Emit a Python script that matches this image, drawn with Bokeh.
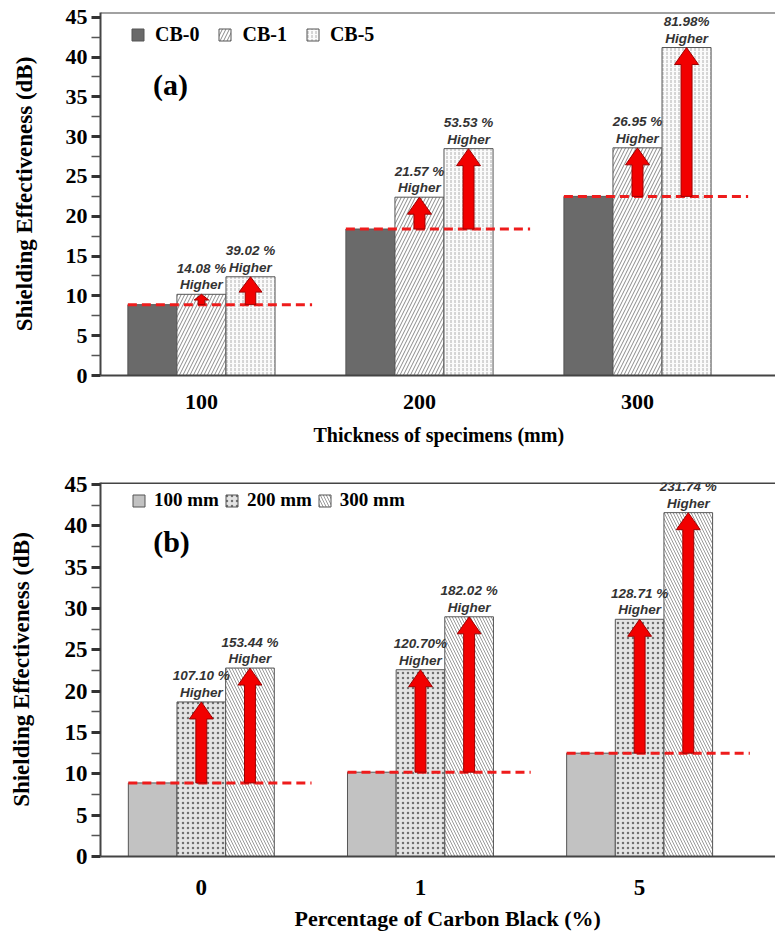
from bokeh.plotting import figure
from bokeh.layouts import column
from bokeh.models import (ColumnDataSource, FixedTicker, Legend, LegendItem,
                          Label, Range1d, Span, Title)
from bokeh.embed import file_html
from bokeh.resources import INLINE
from bokeh.core.properties import value

# ---------------- data: panel (a) ----------------
thickness_labels = ["100", "200", "300"]
cb_names = ["CB-0", "CB-1", "CB-5"]
se_cb0 = [8.9, 18.4, 22.5]
se_cb1 = [10.2, 22.4, 28.6]
se_cb5 = [12.4, 28.5, 41.2]
pct_a_cb1 = ["14.08 %", "21.57 %", "26.95 %"]
pct_a_cb5 = ["39.02 %", "53.53 %", "81.98%"]

# ---------------- data: panel (b) ----------------
cb_percent_labels = ["0", "1", "5"]
thk_names = ["100 mm", "200 mm", "300 mm"]
se_100 = [8.9, 10.2, 12.5]
se_200 = [18.7, 22.6, 28.7]
se_300 = [22.8, 29.0, 41.6]
pct_b_200 = ["107.10 %", "120.70%", "128.71 %"]
pct_b_300 = ["153.44 %", "182.02 %", "231.74 %"]

SERIF = "Liberation Serif"
SANS = "Liberation Sans"
W = 775


def arrow_polys(xc, y0, y1, xpp, ypp):
    """Arrow polygon from base y0 up to tip y1; xpp/ypp = data units per pixel."""
    xs, ys = [], []
    for x, a, b in zip(xc, y0, y1):
        L = (b - a) / ypp
        s = min(1.0, 0.4 + L / 50.0)
        hl = min(17.0, 0.55 * L) * ypp
        sw = 5.5 * s * xpp
        hw = 12.0 * s * xpp
        xs.append([x - sw, x + sw, x + sw, x + hw, x, x - hw, x - sw])
        ys.append([a, a, b - hl, b - hl, b, b - hl, b - hl])
    return xs, ys


def panel(cats, names, series, pcts, styles, *, fig_h, left, top, bottom, xr, yr, bw,
          tick_size, xlab, xlab_size, ylab_size, ylab_standoff, letter, letter_pos,
          leg_loc, leg_size, leg_spacing, leg_standoff, leg_glyph, tick_standoff,
          xlab_standoff, xlab_offset, top_w):
    p = figure(width=W, height=fig_h, output_backend="svg", toolbar_location=None,
               x_range=Range1d(*xr), y_range=Range1d(*yr),
               min_border_left=left, min_border_right=0, min_border_top=top,
               min_border_bottom=bottom, background_fill_color="white",
               border_fill_color="white", outline_line_color=None)
    p.grid.visible = False
    frame_w = W - left
    frame_h = fig_h - top - bottom
    xpp = (xr[1] - xr[0]) / frame_w
    ypp = (yr[1] - yr[0]) / frame_h

    n = len(cats)
    gx = list(range(n))
    offsets = [-bw, 0.0, bw]
    items = []
    for name, vals, off, st in zip(names, series, offsets, styles):
        src = ColumnDataSource(dict(x=[g + off for g in gx], top=vals))
        r = p.vbar(x="x", top="top", width=bw, source=src, line_color="#555555",
                   line_width=1, **st)
        items.append(LegendItem(label=name, renderers=[r]))

    # dashed baselines
    base = series[0]
    p.segment(x0=[g - 1.5 * bw for g in gx], x1=[g + 1.5 * bw + 0.17 for g in gx],
              y0=base, y1=base, line_color="#ee1c1c", line_width=3, line_dash="9 5")

    # arrows + texts
    for k in (1, 2):
        xc = [g + offsets[k] for g in gx]
        xs, ys = arrow_polys(xc, base, series[k], xpp, ypp)
        p.patches(xs, ys, fill_color="#f20000", line_color="#a00000", line_width=1)
        p.text(x=xc, y=series[k], text=[t + "\nHigher" for t in pcts[k - 1]],
               text_align="center", text_baseline="bottom", y_offset=-2,
               text_font=value(SANS), text_font_style="bold italic",
               text_font_size="13.5px", text_color="#333333", text_line_height=1.1)

    # axes
    xa = p.xaxis[0]
    xa.ticker = FixedTicker(ticks=gx)
    xa.major_label_overrides = {i: c for i, c in enumerate(cats)}
    xa.major_tick_line_color = None
    xa.minor_tick_line_color = None
    xa.major_tick_out = 0
    xa.major_tick_in = 0
    xa.axis_line_width = 2
    xa.axis_line_color = "#444444"
    xa.major_label_text_font = SERIF
    xa.major_label_text_font_style = "bold"
    xa.major_label_text_font_size = tick_size
    xa.major_label_text_color = "black"
    xa.major_label_standoff = tick_standoff

    p.add_layout(Title(text=xlab, align="left", offset=xlab_offset,
                       standoff=xlab_standoff, text_font=SERIF, text_font_style="bold",
                       text_font_size=xlab_size, text_color="black"), "below")

    ya = p.yaxis[0]
    ya.ticker = FixedTicker(ticks=list(range(0, 50, 5)),
                            minor_ticks=[v + 2.5 for v in range(0, 45, 5)])
    ya.axis_line_width = 2
    ya.axis_line_color = "#444444"
    ya.major_tick_line_width = 3
    ya.major_tick_line_color = "#333333"
    ya.major_tick_out = 9
    ya.major_tick_in = 0
    ya.minor_tick_line_width = 1.5
    ya.minor_tick_line_color = "#555555"
    ya.minor_tick_out = 9
    ya.minor_tick_in = 0
    ya.major_label_text_font = SERIF
    ya.major_label_text_font_style = "bold"
    ya.major_label_text_font_size = tick_size
    ya.major_label_text_color = "black"
    ya.major_label_standoff = 4
    ya.axis_label = "Shielding Effectiveness (dB)"
    ya.axis_label_text_font = SERIF
    ya.axis_label_text_font_style = "bold"
    ya.axis_label_text_font_size = ylab_size
    ya.axis_label_text_color = "black"
    ya.axis_label_standoff = ylab_standoff

    p.add_layout(Span(location=yr[1], dimension="width", line_color="#444444",
                      line_width=top_w))

    leg = Legend(items=items, orientation="horizontal", location=leg_loc,
                 label_text_font=SERIF, label_text_font_style="bold",
                 label_text_font_size=leg_size, label_text_color="black",
                 glyph_width=leg_glyph, glyph_height=leg_glyph, spacing=leg_spacing,
                 label_standoff=leg_standoff, padding=0, margin=0,
                 border_line_color=None, background_fill_alpha=0)
    p.add_layout(leg, "center")

    p.add_layout(Label(x=letter_pos[0], y=letter_pos[1], x_units="screen", y_units="screen",
                       text=letter, text_font=SERIF, text_font_style="bold",
                       text_font_size="30px", text_color="black",
                       text_align="center", text_baseline="middle"))
    return p


styles_a = [
    dict(fill_color="#6a6a6a"),
    dict(fill_color="white", hatch_pattern="/", hatch_color="#8a8a8a", hatch_scale=7,
         hatch_weight=1),
    dict(fill_color="#fbfbfb", hatch_pattern=":", hatch_color="#b0b0b0", hatch_scale=4,
         hatch_weight=1),
]
styles_b = [
    dict(fill_color="#c2c2c2"),
    dict(fill_color="#e4e4e4", hatch_pattern=".", hatch_color="#707070", hatch_scale=5,
         hatch_weight=1),
    dict(fill_color="white", hatch_pattern="\\", hatch_color="#9a9a9a", hatch_scale=6,
         hatch_weight=1),
]

pa = panel(thickness_labels, cb_names, [se_cb0, se_cb1, se_cb5], [pct_a_cb1, pct_a_cb5],
           styles_a, fig_h=455, left=100, top=12, bottom=80, xr=(-0.463, 2.633),
           yr=(0, 45.6), bw=0.225, tick_size="22px", xlab="Thickness of specimens (mm)",
           xlab_size="20px", ylab_size="23px", ylab_standoff=26, letter="(a)",
           letter_pos=(70, 291), leg_loc=(30, 329), leg_size="20px", leg_spacing=18,
           leg_standoff=10, leg_glyph=15, tick_standoff=19, xlab_standoff=20,
           xlab_offset=213, top_w=2)

pb = panel(cb_percent_labels, thk_names, [se_100, se_200, se_300], [pct_b_200, pct_b_300],
           styles_b, fig_h=481, left=95, top=27, bottom=80, xr=(-0.46, 2.62),
           yr=(0, 45.25), bw=0.222, tick_size="23px", xlab="Percentage of Carbon Black (%)",
           xlab_size="22px", ylab_size="23px", ylab_standoff=28, letter="(b)",
           letter_pos=(71, 315), leg_loc=(31, 345), leg_size="19px", leg_spacing=5,
           leg_standoff=8, leg_glyph=15, tick_standoff=23, xlab_standoff=12,
           xlab_offset=194, top_w=3)

layout = column(pa, pb, spacing=0)
open("out.html", "w").write(file_html(layout, INLINE))
